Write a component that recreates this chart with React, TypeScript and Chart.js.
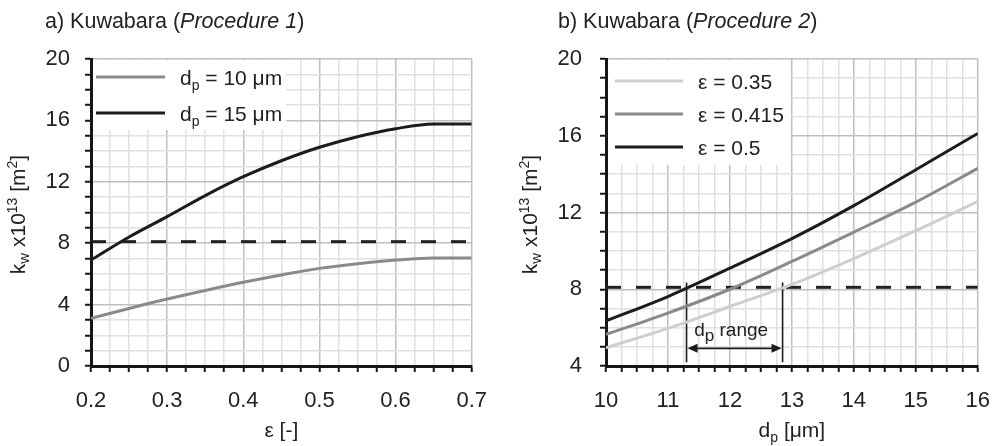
import React, { useEffect, useRef } from "react";
import { Chart, registerables } from "chart.js";

Chart.register(...registerables);

const FONT = '"Liberation Sans", Arial, Helvetica, sans-serif';

// ---------- Panel a) data ----------
const porosity = [0.2, 0.25, 0.3, 0.35, 0.4, 0.45, 0.5, 0.55, 0.6, 0.65, 0.7];
const kwDp10 = [3.1, 3.75, 4.36, 4.92, 5.45, 5.93, 6.36, 6.66, 6.9, 7.04, 7.04];
const kwDp15 = [6.9, 8.4, 9.73, 11.1, 12.33, 13.37, 14.25, 14.94, 15.46, 15.77, 15.77];
const leftXTickValues = [0.2, 0.3, 0.4, 0.5, 0.6, 0.7];
const leftXTickLabels = ["0.2", "0.3", "0.4", "0.5", "0.6", "0.7"];
const leftYTickValues = [0, 4, 8, 12, 16, 20];
const leftYTickLabels = ["0", "4", "8", "12", "16", "20"];

// ---------- Panel b) data ----------
const particleDiameter = [10, 11, 12, 13, 14, 15, 16];
const kwEps035 = [4.95, 5.96, 7.1, 8.25, 9.6, 11.05, 12.57];
const kwEps0415 = [5.65, 6.76, 8.0, 9.45, 10.98, 12.54, 14.3];
const kwEps05 = [6.35, 7.62, 9.1, 10.64, 12.36, 14.23, 16.12];
const rightXTickValues = [10, 11, 12, 13, 14, 15, 16];
const rightXTickLabels = ["10", "11", "12", "13", "14", "15", "16"];
const rightYTickValues = [4, 8, 12, 16, 20];
const rightYTickLabels = ["4", "8", "12", "16", "20"];

// permeability limit (dashed)
const kwLimit = 8.1;

// d_p range annotation (data units)
const dpRange = [11.3, 12.85];
const dpRangeLineY = [8.35, 4.2];
const dpRangeArrowY = 4.92;
const dpRangeLabelPos = [12.02, 5.9];

type Seg = { t: string; s: number; dy?: number; it?: boolean };

const segFont = (g: Seg) => `${g.it ? "italic " : ""}${g.s}px ${FONT}`;

function richWidth(ctx: CanvasRenderingContext2D, segs: Seg[]) {
  let w = 0;
  for (const g of segs) {
    ctx.font = segFont(g);
    w += ctx.measureText(g.t).width;
  }
  return w;
}

function drawRich(
  ctx: CanvasRenderingContext2D,
  segs: Seg[],
  x: number,
  y: number,
  align: "left" | "center" = "left",
  color = "#222"
) {
  let cx = align === "center" ? x - richWidth(ctx, segs) / 2 : x;
  ctx.save();
  ctx.fillStyle = color;
  ctx.textAlign = "left";
  ctx.textBaseline = "alphabetic";
  for (const g of segs) {
    ctx.font = segFont(g);
    ctx.fillText(g.t, cx, y + (g.dy || 0));
    cx += ctx.measureText(g.t).width;
  }
  ctx.restore();
}

const MAJOR = "#bfbfbf";
const MINOR = "#e0e0e0";
const AXIS = "#161616";

const near = (a: number, b: number) => Math.abs(a - b) < 1e-6;

function labelFor(values: number[], labels: string[]) {
  return (v: number | string) => {
    const n = Number(v);
    const i = values.findIndex((t) => near(t, n));
    return i >= 0 ? labels[i] : "";
  };
}
function gridColorFor(values: number[]) {
  return (ctx: any) => {
    const v = ctx.tick ? ctx.tick.value : NaN;
    return values.some((t) => near(t, v)) ? MAJOR : MINOR;
  };
}

type Decor = {
  title: Seg[];
  titleX: number;
  yTitleX: number;
  xTitle: Seg[];
  legendBox: [number, number, number, number];
  legendSample: [number, number];
  legendTextX: number;
  legendRows: number[];
  legendItems: { color: string; segs: Seg[] }[];
  range?: boolean;
};

const yTitleSegs: Seg[] = [
  { t: "k", s: 21 },
  { t: "w", s: 15, dy: 4 },
  { t: " x10", s: 21 },
  { t: "13", s: 14, dy: -8 },
  { t: " [m", s: 21 },
  { t: "2", s: 14, dy: -8 },
  { t: "]", s: 21 },
];

function decorPlugin(d: Decor) {
  return {
    id: "decor",
    beforeDatasetsDraw(chart: any) {
      const ctx: CanvasRenderingContext2D = chart.ctx;
      const [x0, y0, x1, y1] = d.legendBox;
      ctx.save();
      ctx.fillStyle = "#ffffff";
      ctx.fillRect(x0, y0, x1 - x0, y1 - y0);
      d.legendItems.forEach((it, i) => {
        const y = d.legendRows[i];
        ctx.strokeStyle = it.color;
        ctx.lineWidth = 3;
        ctx.beginPath();
        ctx.moveTo(d.legendSample[0], y);
        ctx.lineTo(d.legendSample[1], y);
        ctx.stroke();
        drawRich(ctx, it.segs, d.legendTextX, y + 7.5);
      });
      ctx.restore();
    },
    afterDraw(chart: any) {
      const ctx: CanvasRenderingContext2D = chart.ctx;
      const area = chart.chartArea;
      drawRich(ctx, d.title, d.titleX, 28);
      // y title
      ctx.save();
      ctx.translate(d.yTitleX, (area.top + area.bottom) / 2 + 2);
      ctx.rotate(-Math.PI / 2);
      drawRich(ctx, yTitleSegs, 0, 7, "center");
      ctx.restore();
      // x title
      drawRich(ctx, d.xTitle, (area.left + area.right) / 2, 437, "center");

      if (d.range) {
        const xs = chart.scales.x;
        const ys = chart.scales.y;
        const xa = xs.getPixelForValue(dpRange[0]);
        const xb = xs.getPixelForValue(dpRange[1]);
        const ya = ys.getPixelForValue(dpRangeArrowY);
        ctx.save();
        ctx.strokeStyle = "#1a1a1a";
        ctx.fillStyle = "#1a1a1a";
        ctx.lineWidth = 1.6;
        ctx.beginPath();
        ctx.moveTo(xa + 6, ya);
        ctx.lineTo(xb - 6, ya);
        ctx.stroke();
        const head = (x: number, dir: number) => {
          ctx.beginPath();
          ctx.moveTo(x, ya);
          ctx.lineTo(x + dir * 10, ya - 4.5);
          ctx.lineTo(x + dir * 10, ya + 4.5);
          ctx.closePath();
          ctx.fill();
        };
        head(xa + 1, 1);
        head(xb - 1, -1);
        ctx.restore();
        drawRich(
          ctx,
          [
            { t: "d", s: 19 },
            { t: "p", s: 17, dy: 5 },
            { t: " range", s: 19 },
          ],
          xs.getPixelForValue(dpRangeLabelPos[0]),
          ys.getPixelForValue(dpRangeLabelPos[1]) + 6,
          "center"
        );
      }
    },
  };
}

function lineDs(xs: number[], ys: number[], color: string) {
  return {
    data: xs.map((x, i) => ({ x, y: ys[i] })),
    borderColor: color,
    borderWidth: 3,
    pointRadius: 0,
    cubicInterpolationMode: "monotone" as const,
    fill: false,
  };
}

function buildConfig(opts: {
  datasets: any[];
  x: { min: number; max: number; step: number; vals: number[]; labels: string[] };
  y: { min: number; max: number; step: number; vals: number[]; labels: string[] };
  yWidth: number;
  padRight: number;
  yPad: number;
  decor: Decor;
}) {
  const tickFont = { size: 22, family: FONT };
  return {
    type: "line" as const,
    data: { datasets: opts.datasets },
    options: {
      responsive: false,
      animation: false as const,
      events: [],
      layout: { padding: { top: 59, right: opts.padRight, left: 0, bottom: 0 } },
      plugins: { legend: { display: false }, title: { display: false }, tooltip: { enabled: false } },
      scales: {
        x: {
          type: "linear" as const,
          min: opts.x.min,
          max: opts.x.max,
          ticks: {
            stepSize: opts.x.step,
            autoSkip: false,
            maxRotation: 0,
            padding: 16,
            color: "#222",
            font: tickFont,
            callback: labelFor(opts.x.vals, opts.x.labels),
          },
          grid: {
            color: gridColorFor(opts.x.vals),
            lineWidth: 1.5,
            tickLength: 6,
            tickColor: AXIS,
            tickWidth: 2,
          },
          border: { display: true, color: AXIS, width: 3 },
          afterFit: (s: any) => {
            s.height = 80;
          },
        },
        y: {
          type: "linear" as const,
          min: opts.y.min,
          max: opts.y.max,
          ticks: {
            stepSize: opts.y.step,
            autoSkip: false,
            padding: opts.yPad,
            color: "#222",
            font: tickFont,
            callback: labelFor(opts.y.vals, opts.y.labels),
          },
          grid: {
            color: gridColorFor(opts.y.vals),
            lineWidth: 1.5,
            tickLength: 6,
            tickColor: AXIS,
            tickWidth: 2,
          },
          border: { display: true, color: AXIS, width: 3 },
          afterFit: (s: any) => {
            s.width = opts.yWidth;
          },
        },
      },
    },
    plugins: [decorPlugin(opts.decor)],
  };
}

function Panel({ make, left }: { make: () => any; left: number }) {
  const ref = useRef<HTMLCanvasElement>(null);
  useEffect(() => {
    const chart = new Chart(ref.current as HTMLCanvasElement, make());
    return () => chart.destroy();
  }, []);
  return (
    <canvas
      ref={ref}
      width={503}
      height={446}
      style={{ position: "absolute", left, top: 0, width: 503, height: 446 }}
    />
  );
}

const makeLeft = () =>
  buildConfig({
    datasets: [
      lineDs(porosity, kwDp10, "#8a8a8a"),
      lineDs(porosity, kwDp15, "#1c1c1c"),
      {
        data: [
          { x: porosity[0], y: kwLimit },
          { x: porosity[porosity.length - 1], y: kwLimit },
        ],
        borderColor: "#222",
        borderWidth: 3,
        borderDash: [15, 15],
        pointRadius: 0,
      },
    ],
    x: { min: 0.2, max: 0.7, step: 0.025, vals: leftXTickValues, labels: leftXTickLabels },
    y: { min: 0, max: 20, step: 1, vals: leftYTickValues, labels: leftYTickLabels },
    yWidth: 91,
    padRight: 28,
    yPad: 15,
    decor: {
      title: [
        { t: "a) Kuwabara (", s: 21.5 },
        { t: "Procedure 1", s: 21.5, it: true },
        { t: ")", s: 21.5 },
      ],
      titleX: 45,
      yTitleX: 18,
      xTitle: [{ t: "ε [-]", s: 21 }],
      legendBox: [93, 60, 286, 130],
      legendSample: [96, 165],
      legendTextX: 180,
      legendRows: [77, 113],
      legendItems: [
        {
          color: "#8a8a8a",
          segs: [
            { t: "d", s: 21 },
            { t: "p", s: 14, dy: 5 },
            { t: " = 10 μm", s: 21 },
          ],
        },
        {
          color: "#1c1c1c",
          segs: [
            { t: "d", s: 21 },
            { t: "p", s: 14, dy: 5 },
            { t: " = 15 μm", s: 21 },
          ],
        },
      ],
    },
  });

const makeRight = () =>
  buildConfig({
    datasets: [
      lineDs(particleDiameter, kwEps035, "#cecece"),
      lineDs(particleDiameter, kwEps0415, "#8a8a8a"),
      lineDs(particleDiameter, kwEps05, "#1c1c1c"),
      {
        data: [
          { x: particleDiameter[0], y: kwLimit },
          { x: particleDiameter[particleDiameter.length - 1], y: kwLimit },
        ],
        borderColor: "#222",
        borderWidth: 3,
        borderDash: [15, 15],
        pointRadius: 0,
      },
      {
        data: [
          { x: dpRange[0], y: dpRangeLineY[0] },
          { x: dpRange[0], y: dpRangeLineY[1] },
        ],
        borderColor: "#1a1a1a",
        borderWidth: 1.6,
        pointRadius: 0,
      },
      {
        data: [
          { x: dpRange[1], y: dpRangeLineY[0] },
          { x: dpRange[1], y: dpRangeLineY[1] },
        ],
        borderColor: "#1a1a1a",
        borderWidth: 1.6,
        pointRadius: 0,
      },
    ],
    x: { min: 10, max: 16, step: 0.25, vals: rightXTickValues, labels: rightXTickLabels },
    y: { min: 4, max: 20, step: 1, vals: rightYTickValues, labels: rightYTickLabels },
    yWidth: 103,
    padRight: 16,
    yPad: 18,
    decor: {
      title: [
        { t: "b) Kuwabara (", s: 21.5 },
        { t: "Procedure 2", s: 21.5, it: true },
        { t: ")", s: 21.5 },
      ],
      titleX: 55,
      yTitleX: 27,
      xTitle: [
        { t: "d", s: 21 },
        { t: "p", s: 14, dy: 5 },
        { t: " [μm]", s: 21 },
      ],
      legendBox: [105, 60, 288, 165],
      legendSample: [112, 180],
      legendTextX: 195,
      legendRows: [81, 114, 147],
      legendItems: [
        { color: "#cecece", segs: [{ t: "ε = 0.35", s: 21 }] },
        { color: "#8a8a8a", segs: [{ t: "ε = 0.415", s: 21 }] },
        { color: "#1c1c1c", segs: [{ t: "ε = 0.5", s: 21 }] },
      ],
      range: true,
    },
  });

export default function App() {
  return (
    <div style={{ position: "absolute", left: 0, top: 0, width: 1006, height: 446, background: "#fff" }}>
      <Panel make={makeLeft} left={0} />
      <Panel make={makeRight} left={503} />
    </div>
  );
}
